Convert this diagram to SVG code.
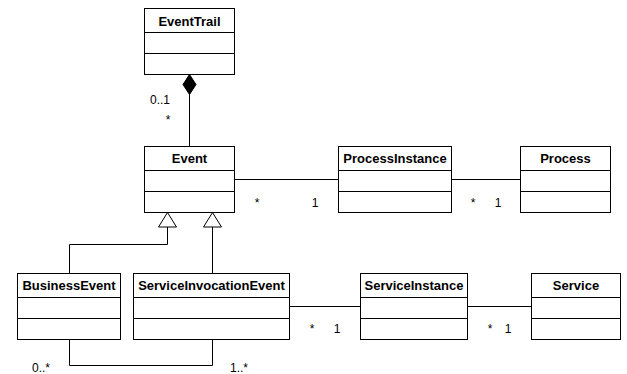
<svg xmlns="http://www.w3.org/2000/svg" width="627" height="374" viewBox="0 0 627 374">
  <style>
    .box { fill: #fff; stroke: #000; stroke-width: 1; }
    .div { stroke: #000; stroke-width: 1; }
    .title { font-family: "Liberation Sans", Arial, sans-serif; font-size: 13px; font-weight: bold; text-anchor: middle; fill: #000; }
    .mult { font-family: "Liberation Sans", Arial, sans-serif; font-size: 12px; text-anchor: middle; fill: #000; }
    .edge { fill: none; stroke: #000; stroke-width: 1; }
    .tri { fill: #fff; stroke: #000; stroke-width: 1; }
  </style>
  <rect width="627" height="374" fill="#fff"/>

  <!-- connectors -->
  <g id="connectors">
    <!-- EventTrail composition of Event -->
    <line class="edge" x1="189.5" y1="94" x2="189.5" y2="146.5"/>
    <polygon points="189.5,74.5 196,84.5 189.5,94.5 183,84.5" fill="#000" stroke="#000"/>
    <!-- associations -->
    <line class="edge" x1="234.5" y1="179.5" x2="338.5" y2="179.5"/>
    <line class="edge" x1="451.5" y1="179.5" x2="520.5" y2="179.5"/>
    <line class="edge" x1="289.5" y1="306.5" x2="360.5" y2="306.5"/>
    <line class="edge" x1="467.5" y1="306.5" x2="531.5" y2="306.5"/>
    <path class="edge" d="M69.5,339.5 V365.5 H212.5 V339.5"/>
    <!-- generalizations -->
    <path class="edge" d="M69.5,273.5 V244.5 H167.5 V227"/>
    <path class="edge" d="M212.5,273.5 V227"/>
    <polygon class="tri" points="167.5,212.5 176.5,227 158.5,227"/>
    <polygon class="tri" points="212.5,212.5 221.5,227 203.5,227"/>
    <!-- multiplicities -->
    <text class="mult" x="160" y="104">0..1</text>
    <text class="mult" x="168" y="124">*</text>
    <text class="mult" x="257" y="207">*</text>
    <text class="mult" x="315" y="207">1</text>
    <text class="mult" x="473" y="207">*</text>
    <text class="mult" x="498" y="207">1</text>
    <text class="mult" x="312" y="333">*</text>
    <text class="mult" x="337" y="333">1</text>
    <text class="mult" x="490" y="333">*</text>
    <text class="mult" x="508" y="333">1</text>
    <text class="mult" x="41" y="372">0..*</text>
    <text class="mult" x="239" y="372">1..*</text>
  </g>

  <g id="EventTrail">
    <rect class="box" x="144.5" y="8.5" width="90" height="66"/>
    <line class="div" x1="144.5" y1="32.5" x2="234.5" y2="32.5"/>
    <line class="div" x1="144.5" y1="53.5" x2="234.5" y2="53.5"/>
    <text class="title" x="189.5" y="26">EventTrail</text>
  </g>

  <g id="Event">
    <rect class="box" x="144.5" y="146.5" width="90" height="66"/>
    <line class="div" x1="144.5" y1="170.5" x2="234.5" y2="170.5"/>
    <line class="div" x1="144.5" y1="191.5" x2="234.5" y2="191.5"/>
    <text class="title" x="189.5" y="163">Event</text>
  </g>

  <g id="ProcessInstance">
    <rect class="box" x="338.5" y="146.5" width="113" height="66"/>
    <line class="div" x1="338.5" y1="170.5" x2="451.5" y2="170.5"/>
    <line class="div" x1="338.5" y1="191.5" x2="451.5" y2="191.5"/>
    <text class="title" x="395" y="163">ProcessInstance</text>
  </g>

  <g id="Process">
    <rect class="box" x="520.5" y="146.5" width="90" height="66"/>
    <line class="div" x1="520.5" y1="170.5" x2="610.5" y2="170.5"/>
    <line class="div" x1="520.5" y1="191.5" x2="610.5" y2="191.5"/>
    <text class="title" x="565.5" y="163">Process</text>
  </g>

  <g id="BusinessEvent">
    <rect class="box" x="17.5" y="273.5" width="103" height="66"/>
    <line class="div" x1="17.5" y1="297.5" x2="120.5" y2="297.5"/>
    <line class="div" x1="17.5" y1="318.5" x2="120.5" y2="318.5"/>
    <text class="title" x="69" y="290">BusinessEvent</text>
  </g>

  <g id="ServiceInvocationEvent">
    <rect class="box" x="133.5" y="273.5" width="156" height="66"/>
    <line class="div" x1="133.5" y1="297.5" x2="289.5" y2="297.5"/>
    <line class="div" x1="133.5" y1="318.5" x2="289.5" y2="318.5"/>
    <text class="title" x="211.5" y="290">ServiceInvocationEvent</text>
  </g>

  <g id="ServiceInstance">
    <rect class="box" x="360.5" y="273.5" width="107" height="66"/>
    <line class="div" x1="360.5" y1="297.5" x2="467.5" y2="297.5"/>
    <line class="div" x1="360.5" y1="318.5" x2="467.5" y2="318.5"/>
    <text class="title" x="414" y="290">ServiceInstance</text>
  </g>

  <g id="Service">
    <rect class="box" x="531.5" y="273.5" width="89" height="66"/>
    <line class="div" x1="531.5" y1="297.5" x2="620.5" y2="297.5"/>
    <line class="div" x1="531.5" y1="318.5" x2="620.5" y2="318.5"/>
    <text class="title" x="576" y="290">Service</text>
  </g>
</svg>
